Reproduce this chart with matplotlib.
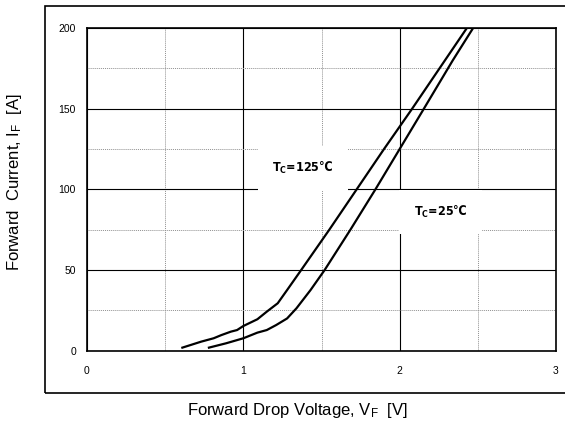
import matplotlib
matplotlib.use('Agg')
import matplotlib.pyplot as plt
from matplotlib.patches import Rectangle
from matplotlib.ticker import MultipleLocator

# forward characteristic
vf_125 = [0.61, 0.73, 0.81, 0.86, 0.92, 0.96, 1.00, 1.09, 1.15, 1.22, 1.28, 1.37, 1.55, 1.725, 1.90, 2.08, 2.29, 2.43]
if_125 = [1.9, 5.6, 7.7, 9.7, 11.8, 12.8, 15.3, 19.5, 24.2, 29.4, 37.6, 50, 75, 100, 125, 150, 180, 200]

vf_25 = [0.78, 0.89, 1.00, 1.09, 1.15, 1.21, 1.28, 1.34, 1.43, 1.52, 1.685, 1.845, 2.00, 2.155, 2.34, 2.47]
if_25 = [1.9, 4.6, 7.7, 11.2, 12.8, 15.9, 20, 26.3, 37.6, 50, 75, 100, 125, 150, 180, 200]

x_ticks = [0, 1, 2, 3]
y_ticks = [0, 50, 100, 150, 200]

plt.rcParams['font.family'] = ['Liberation Sans', 'DejaVu Sans']

fig = plt.figure(figsize=(5.65, 4.29), dpi=100)
fig.patch.set_facecolor('white')

# outer frame around the plot
fig.patches.append(Rectangle((45/565, 36.3/429), 530/565, 387/429, transform=fig.transFigure,
                             fill=False, edgecolor='black', linewidth=1.2, zorder=0))

ax = fig.add_axes([87/565, 78.3/429, 469/565, 322.7/429])
ax.set_xlim(0, 3)
ax.set_ylim(0, 200)
ax.set_xticks(x_ticks)
ax.set_yticks(y_ticks)
ax.xaxis.set_minor_locator(MultipleLocator(0.5))
ax.yaxis.set_minor_locator(MultipleLocator(25))
ax.grid(which='major', color='black', linewidth=0.8)
ax.grid(which='minor', color='#909090', linewidth=0.7, linestyle=(0, (1, 1)))
ax.tick_params(which='both', length=0)
ax.tick_params(axis='x', pad=11, labelsize=7.5)
ax.tick_params(axis='y', pad=8, labelsize=7.5)
for sp in ax.spines.values():
    sp.set_linewidth(1.2)

ax.plot(vf_125, if_125, color='black', linewidth=1.6, zorder=3)
ax.plot(vf_25, if_25, color='black', linewidth=1.6, zorder=3)

box = dict(boxstyle='square,pad=1.15', facecolor='white', edgecolor='none')
lab = dict(ha='center', va='center', fontsize=9, fontweight='bold', family='DejaVu Sans',
           fontstretch='condensed', bbox=box, zorder=2)
ax.text(1.383, 113, r'$\mathregular{T_C}$=125℃', **lab)
ax.text(2.261, 86, r'$\mathregular{T_C}$=25℃', **lab)

fig.text(297/565, 1 - 410/429, r'Forward Drop Voltage, $\mathregular{V_F}$  [V]', ha='center',
         va='center', fontsize=12)
fig.text(15/565, 1 - 182/429, r'Forward  Current, $\mathregular{I_F}$  [A]', ha='center',
         va='center', rotation=90, fontsize=12)

fig.savefig('out.png', dpi=100, facecolor=fig.get_facecolor())
